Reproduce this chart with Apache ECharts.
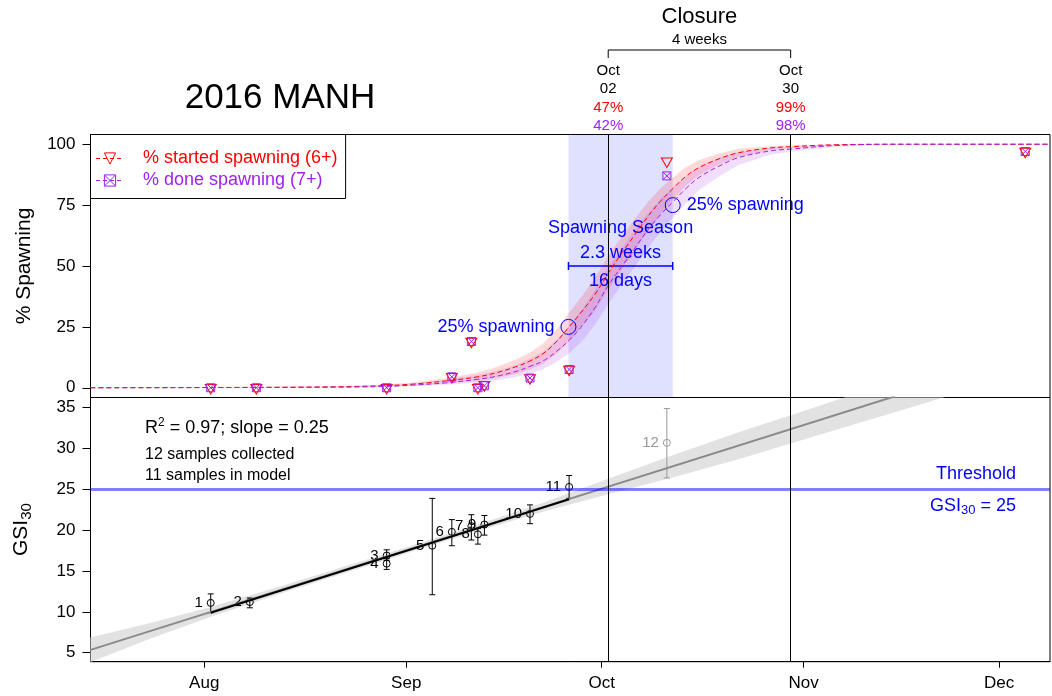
<!DOCTYPE html>
<html>
<head>
<meta charset="utf-8">
<script src="https://cdn.jsdelivr.net/npm/echarts@6/dist/echarts.min.js"></script>
<style>
html,body{margin:0;padding:0;background:#fff;}
#chart{width:1052px;height:696px;}
</style>
</head>
<body>
<div id="chart"></div>
<script>
// day of year 2016 (Jan 1 = 0)
function doy(s){
	var p = s.split('-');
	return (Date.UTC(+p[0], +p[1]-1, +p[2]) - Date.UTC(2016,0,1)) / 86400000;
}
var MON = ['Jan','Feb','Mar','Apr','May','Jun','Jul','Aug','Sep','Oct','Nov','Dec'];

var monthStarts = ['2016-08-01','2016-09-01','2016-10-01','2016-11-01','2016-12-01'];
var monthNames = ['Aug','Sep','Oct','Nov','Dec'];
var xStart = 195.55, xEnd = 342.8;

// top panel: observed % spawning
var spawnDates = ['2016-08-02','2016-08-09','2016-08-29','2016-09-08','2016-09-11','2016-09-12','2016-09-13','2016-09-20','2016-09-26','2016-10-11','2016-12-05'];
var pctStarted = [0,0,0,4.5,19,0,1.2,4,7.5,93,97];
var pctDone    = [0,0,0,4.5,19,0,0.8,4,7.5,87,97];

// fitted curves
var fitDays      = [195.55,230,240,245,250,255,258,261,263,265,267,269,271,273,275,277,279,281,283,285,287,289,292,295,300,303,310,320,342.8];
var fitStarted   = [0,0.3,0.8,1.5,2.8,4.5,6.3,8.8,11,14,18.8,25,31.5,38.5,47,55,62.5,70,76.5,82,87,90.5,94,96.5,98.5,99,99.8,100,100];
var fitStartedLo = [0,0.1,0.4,0.8,1.7,2.7,4.0,5.8,7.5,9.8,13.8,19.2,25.2,31.7,40,48.2,56,64,71.2,77.5,83.2,87.5,91.8,94.9,97.7,98.4,99.6,99.95,100];
var fitStartedHi = [0,0.55,1.2,2.2,3.9,6.3,8.6,11.8,14.5,18.2,23.8,30.8,37.8,45.3,54,61.8,69,76,81.8,86.5,90.8,93.5,96.2,98.1,99.3,99.6,99.9,100,100];
var fitDone      = [0,0.2,0.5,1.1,2,3.5,4.8,6.8,8.8,11,14.8,19.5,25.5,33,42,49.5,57,64.5,71,76.5,82,86.5,91,94.5,97.3,98,99.5,100,100];
var fitDoneLo    = [0,0.1,0.2,0.6,1.2,2.2,3.1,4.5,6,7.6,10.5,14.2,19.2,26,34.5,42,49.5,57,64,70,76,81.3,86.8,91.5,95.8,96.9,99,99.8,100];
var fitDoneHi    = [0,0.35,0.9,1.8,3.2,5.3,7,9.6,12,14.8,19.5,25.3,32.2,40.3,49.5,57,64.3,71.5,77.5,82.3,87,90.8,94.5,96.8,98.5,98.9,99.8,100,100];

// spawning season
var seasonStart = 268.9, seasonEnd = 284.9;
var seasonMarkPct = [25, 75];
var seasonMarkText = ['25% spawning', '25% spawning'];
var seasonWeeks = '2.3 weeks', seasonDaysText = '16 days';

// closure
var closureDates = ['2016-10-02','2016-10-30'];
var closureStarted = [47, 99];
var closureDone = [42, 98];

// bottom panel: GSI30 samples
var gsiIds   = ['1','2','3','4','5','6','7','8','9','10','11','12'];
var gsiDates = ['2016-08-02','2016-08-08','2016-08-29','2016-08-29','2016-09-05','2016-09-08','2016-09-11','2016-09-12','2016-09-13','2016-09-20','2016-09-26','2016-10-11'];
var gsiMean  = [11.1,11.2,16.9,15.9,18.1,19.8,20.5,19.5,20.7,22.0,25.3,30.7];
var gsiLo    = [9.9,10.5,16.3,15.2,12.1,18.1,18.8,18.3,19.4,20.8,23.9,26.4];
var gsiHi    = [12.2,11.7,17.6,16.5,23.9,21.3,21.9,20.2,21.8,23.1,26.7,34.9];
var nInModel = 11;

// regression
var fitLineDays = [195.55, 319], fitLineGsi = [5.35, 36.4];
var modelLineDays = [214, 269], modelLineGsi = [9.9, 23.8];
var gsiBandDays = [195.55,205,214,225,240,255,265,275,285,295,305,320,330];
var gsiBandLo   = [3.85,6.8,9.4,12.3,16.15,19.9,22.25,24.4,26.5,28.7,31.1,34.7,37.1];
var gsiBandHi   = [6.85,8.7,10.6,13.2,16.9,20.7,23.35,26.3,29.2,32.0,34.6,38.6,41.3];
var threshold = 25, r2 = '0.97', slope = '0.25';

var FONT = '"Liberation Sans", Arial, sans-serif';
var RED = '#ff0000', PURPLE = '#a020f0', BLUE = '#0000ff';
var TRI = 'path://M0,0L20,0L10,17.32Z';
var BOXX = 'path://M0,0L10,0L10,10L0,10ZM0,0L10,10M10,0L0,10';
var startedName = '% started spawning (6+)', doneName = '% done spawning (7+)';

var monthDays = monthStarts.map(doy);
var spawnDays = spawnDates.map(doy);
var gsiDays = gsiDates.map(doy);
var closureDays = closureDates.map(doy);

function pairs(xs, ys){ return xs.map(function(x,i){ return [x, ys[i]]; }); }

function bandSeries(idx, days, lo, hi, color){
	return {
		type: 'custom', xAxisIndex: idx, yAxisIndex: idx, clip: true, silent: true,
		data: days.map(function(x,i){ return [x, lo[i], hi[i]]; }),
		renderItem: function(params, api){
			if (params.dataIndex !== 0) return null;
			var pts = [], i;
			for (i = 0; i < days.length; i++) pts.push(api.coord([days[i], hi[i]]));
			for (i = days.length-1; i >= 0; i--) pts.push(api.coord([days[i], lo[i]]));
			return {type: 'polygon', shape: {points: pts}, style: {fill: color}};
		}
	};
}

var vLines = {
	silent: true, symbol: ['none','none'], label: {show: false},
	lineStyle: {color: '#000', width: 1, type: 'solid'},
	data: closureDays.map(function(d){ return {xAxis: d}; })
};

var chart = echarts.init(document.getElementById('chart'));

var option = {
	animation: false,
	backgroundColor: '#fff',
	textStyle: {fontFamily: FONT},
	grid: [
		{left: 90.5, top: 134.5, width: 959.5, height: 263, show: true, borderColor: '#000', borderWidth: 1},
		{left: 90.5, top: 397.5, width: 959.5, height: 264.2, show: true, borderColor: '#000', borderWidth: 1}
	],
	legend: {
		selectedMode: false,
		orient: 'vertical',
		left: 90.5, top: 134.5,
		padding: [14, 8, 8, 5],
		itemWidth: 28, itemHeight: 14, itemGap: 2,
		borderColor: '#000', borderWidth: 1, borderRadius: 0,
		textStyle: {fontSize: 18, lineHeight: 20, padding: [0,0,0,14], fontFamily: FONT},
		data: [
			{name: startedName, textStyle: {color: RED},
				itemStyle: {color: 'rgba(0,0,0,0)', borderColor: RED, borderWidth: 1},
				lineStyle: {color: RED, width: 1, type: [4,3]}},
			{name: doneName, textStyle: {color: PURPLE},
				itemStyle: {color: 'rgba(0,0,0,0)', borderColor: PURPLE, borderWidth: 1},
				lineStyle: {color: PURPLE, width: 1, type: [4,3]}}
		]
	},
	xAxis: [
		{gridIndex: 0, type: 'value', min: xStart, max: xEnd,
			axisLine: {show: false}, axisTick: {show: false}, axisLabel: {show: false}, splitLine: {show: false}},
		{gridIndex: 1, type: 'value', min: xStart, max: xEnd,
			axisLine: {show: true, onZero: false, lineStyle: {color: '#000'}},
			axisTick: {show: true, length: 6, customValues: monthDays, lineStyle: {color: '#000'}},
			axisLabel: {customValues: monthDays, color: '#000', fontSize: 17, margin: 13,
				formatter: function(v){ return monthNames[monthDays.indexOf(v)] || ''; }},
			splitLine: {show: false}}
	],
	yAxis: [
		{gridIndex: 0, type: 'value', min: -4, max: 104,
			axisLine: {show: true, onZero: false, lineStyle: {color: '#000'}},
			axisTick: {show: true, length: 8, customValues: [0,25,50,75,100], lineStyle: {color: '#000'}},
			axisLabel: {customValues: [0,25,50,75,100], color: '#000', fontSize: 17, margin: 15},
			splitLine: {show: false},
			name: '% Spawning', nameLocation: 'middle', nameRotate: 90, nameGap: 56,
			nameTextStyle: {fontSize: 21, color: '#000'}},
		{gridIndex: 1, type: 'value', min: 3.9, max: 36.25,
			axisLine: {show: true, onZero: false, lineStyle: {color: '#000'}},
			axisTick: {show: true, length: 8, customValues: [5,10,15,20,25,30,35], lineStyle: {color: '#000'}},
			axisLabel: {customValues: [5,10,15,20,25,30,35], color: '#000', fontSize: 17, margin: 15},
			splitLine: {show: false},
			name: 'GSI{sub|30}', nameLocation: 'middle', nameRotate: 90, nameGap: 56,
			nameTextStyle: {fontSize: 21, color: '#000', lineHeight: 26,
				rich: {sub: {fontSize: 15, verticalAlign: 'bottom', lineHeight: 15}}}}
	],
	series: [
		// ---- top panel ----
		bandSeries(0, fitDays, fitStartedLo, fitStartedHi, 'rgba(255,0,0,0.15)'),
		bandSeries(0, fitDays, fitDoneLo, fitDoneHi, 'rgba(160,32,240,0.15)'),
		{
			name: startedName, type: 'line', xAxisIndex: 0, yAxisIndex: 0,
			data: pairs(fitDays, fitStarted), smooth: 0.4,
			symbol: TRI, showSymbol: false, silent: true,
			lineStyle: {color: RED, width: 1, type: [5,3]},
			itemStyle: {color: 'rgba(0,0,0,0)', borderColor: RED, borderWidth: 1},
			markArea: {silent: true, itemStyle: {color: 'rgba(0,0,255,0.12)'},
				data: [[{xAxis: seasonStart}, {xAxis: seasonEnd}]]},
			markLine: vLines
		},
		{
			name: doneName, type: 'line', xAxisIndex: 0, yAxisIndex: 0,
			data: pairs(fitDays, fitDone), smooth: 0.4,
			symbol: BOXX, showSymbol: false, silent: true,
			lineStyle: {color: PURPLE, width: 1, type: [5,3]},
			itemStyle: {color: 'rgba(0,0,0,0)', borderColor: PURPLE, borderWidth: 1}
		},
		{
			name: 'started obs', type: 'scatter', xAxisIndex: 0, yAxisIndex: 0,
			data: pairs(spawnDays, pctStarted), symbol: TRI, symbolSize: [11, 9.5], symbolOffset: [0, 1.5],
			itemStyle: {color: 'rgba(0,0,0,0)', borderColor: RED, borderWidth: 1, opacity: 1}, silent: true
		},
		{
			name: 'done obs', type: 'scatter', xAxisIndex: 0, yAxisIndex: 0,
			data: pairs(spawnDays, pctDone), symbol: BOXX, symbolSize: 8,
			itemStyle: {color: 'rgba(0,0,0,0)', borderColor: PURPLE, borderWidth: 1, opacity: 1}, silent: true
		},
		{
			name: 'season marks', type: 'scatter', xAxisIndex: 0, yAxisIndex: 0, silent: true,
			symbol: 'circle', symbolSize: 15,
			itemStyle: {color: 'rgba(0,0,0,0)', borderColor: BLUE, borderWidth: 1, opacity: 1},
			label: {show: true, color: BLUE, fontSize: 18, distance: 6,
				formatter: function(p){ return seasonMarkText[p.dataIndex]; }},
			data: [
				{value: [seasonStart, seasonMarkPct[0]], label: {position: 'left'}},
				{value: [seasonEnd, seasonMarkPct[1]], label: {position: 'right'}}
			]
		},
		{
			name: 'season span', type: 'custom', xAxisIndex: 0, yAxisIndex: 0, silent: true,
			data: [[seasonStart, seasonEnd, 50]],
			renderItem: function(params, api){
				var a = api.coord([api.value(0), api.value(2)]);
				var b = api.coord([api.value(1), api.value(2)]);
				var cx = (a[0] + b[0]) / 2;
				var ls = {stroke: BLUE, lineWidth: 1.5};
				function txt(t, y){
					return {type: 'text', x: cx, y: y, style: {text: t, fill: BLUE, fontSize: 18, fontFamily: FONT,
						align: 'center', verticalAlign: 'middle'}};
				}
				return {type: 'group', children: [
					{type: 'line', shape: {x1: a[0], y1: a[1], x2: b[0], y2: b[1]}, style: ls},
					{type: 'line', shape: {x1: a[0], y1: a[1]-4, x2: a[0], y2: a[1]+4}, style: ls},
					{type: 'line', shape: {x1: b[0], y1: b[1]-4, x2: b[0], y2: b[1]+4}, style: ls},
					txt('Spawning Season', a[1]-38),
					txt(seasonWeeks, a[1]-13),
					txt(seasonDaysText, a[1]+15)
				]};
			}
		},
		// ---- bottom panel ----
		bandSeries(1, gsiBandDays, gsiBandLo, gsiBandHi, '#e2e2e2'),
		{
			name: 'fit', type: 'line', xAxisIndex: 1, yAxisIndex: 1, silent: true,
			data: pairs(fitLineDays, fitLineGsi), showSymbol: false, clip: true,
			lineStyle: {color: '#8a8a8a', width: 2},
			markLine: {
				silent: true, symbol: ['none','none'], label: {show: false},
				data: [
					{yAxis: threshold, lineStyle: {color: 'rgba(0,0,255,0.5)', width: 3, type: 'solid'}},
					{xAxis: closureDays[0], lineStyle: {color: '#000', width: 1, type: 'solid'}},
					{xAxis: closureDays[1], lineStyle: {color: '#000', width: 1, type: 'solid'}}
				]
			}
		},
		{
			name: 'model', type: 'line', xAxisIndex: 1, yAxisIndex: 1, silent: true,
			data: pairs(modelLineDays, modelLineGsi), showSymbol: false,
			lineStyle: {color: '#000', width: 2}
		},
		{
			name: 'gsi err', type: 'custom', xAxisIndex: 1, yAxisIndex: 1, silent: true,
			data: gsiDays.map(function(x,i){ return [x, gsiLo[i], gsiHi[i]]; }),
			renderItem: function(params, api){
				var lo = api.coord([api.value(0), api.value(1)]);
				var hi = api.coord([api.value(0), api.value(2)]);
				var c = params.dataIndex < nInModel ? '#000' : '#999';
				var s = {stroke: c, lineWidth: 1};
				return {type: 'group', children: [
					{type: 'line', shape: {x1: lo[0], y1: lo[1], x2: hi[0], y2: hi[1]}, style: s},
					{type: 'line', shape: {x1: lo[0]-3, y1: lo[1], x2: lo[0]+3, y2: lo[1]}, style: s},
					{type: 'line', shape: {x1: hi[0]-3, y1: hi[1], x2: hi[0]+3, y2: hi[1]}, style: s}
				]};
			}
		},
		{
			name: 'gsi', type: 'scatter', xAxisIndex: 1, yAxisIndex: 1, silent: true,
			symbol: 'circle', symbolSize: 7,
			data: gsiDays.map(function(x,i){
				var c = i < nInModel ? '#000' : '#999';
				return {value: [x, gsiMean[i]],
					itemStyle: {color: 'rgba(0,0,0,0)', borderColor: c, borderWidth: 1, opacity: 1},
					label: {color: c}};
			}),
			label: {show: true, position: 'left', distance: 4, fontSize: 15,
				formatter: function(p){ return gsiIds[p.dataIndex]; }}
		}
	]
};
chart.setOption(option);

// annotations placed through the axes
function px(day){ return chart.convertToPixel({xAxisIndex: 1}, day); }
function pyBot(v){ return chart.convertToPixel({yAxisIndex: 1}, v); }
function txt(t, x, y, size, color, align, extra){
	var st = {text: t, fill: color || '#000', fontSize: size, fontFamily: FONT,
		align: align || 'center', verticalAlign: 'middle'};
	if (extra) for (var k in extra) st[k] = extra[k];
	return {type: 'text', x: x, y: y, style: st};
}
var x1 = px(closureDays[0]), x2 = px(closureDays[1]);
var weeks = Math.round((closureDays[1] - closureDays[0]) / 7);
var g = [
	txt('2016 MANH', 280, 98, 35),
	txt('Closure', (x1+x2)/2, 17, 22),
	txt(weeks + ' weeks', (x1+x2)/2, 40, 15),
	{type: 'polyline', shape: {points: [[x1,58],[x1,50],[x2,50],[x2,58]]}, style: {stroke: '#000', lineWidth: 1, fill: null}}
];
closureDates.forEach(function(s, i){
	var p = s.split('-'), x = i === 0 ? x1 : x2;
	g.push(txt(MON[+p[1]-1], x, 71, 15));
	g.push(txt(p[2], x, 89, 15));
	g.push(txt(closureStarted[i] + '%', x, 107.5, 15, RED));
	g.push(txt(closureDone[i] + '%', x, 126, 15, PURPLE));
});
var ty = pyBot(threshold);
g.push(txt('Threshold', 1016, ty - 15.5, 18, BLUE, 'right'));
g.push(txt('GSI{sub|30} = ' + threshold, 1016, ty + 17, 18, BLUE, 'right',
	{rich: {sub: {fontSize: 13, fill: BLUE, fontFamily: FONT, verticalAlign: 'bottom', lineHeight: 13}}, lineHeight: 22}));
g.push(txt('R{sup|2} = ' + r2 + '; slope = ' + slope, 145, 428, 18, '#000', 'left',
	{rich: {sup: {fontSize: 12, fill: '#000', fontFamily: FONT, verticalAlign: 'top', lineHeight: 12}}, lineHeight: 22}));
g.push(txt(gsiDates.length + ' samples collected', 145, 455, 16, '#000', 'left'));
g.push(txt(nInModel + ' samples in model', 145, 476, 16, '#000', 'left'));
chart.setOption({graphic: g});
</script>
</body>
</html>
